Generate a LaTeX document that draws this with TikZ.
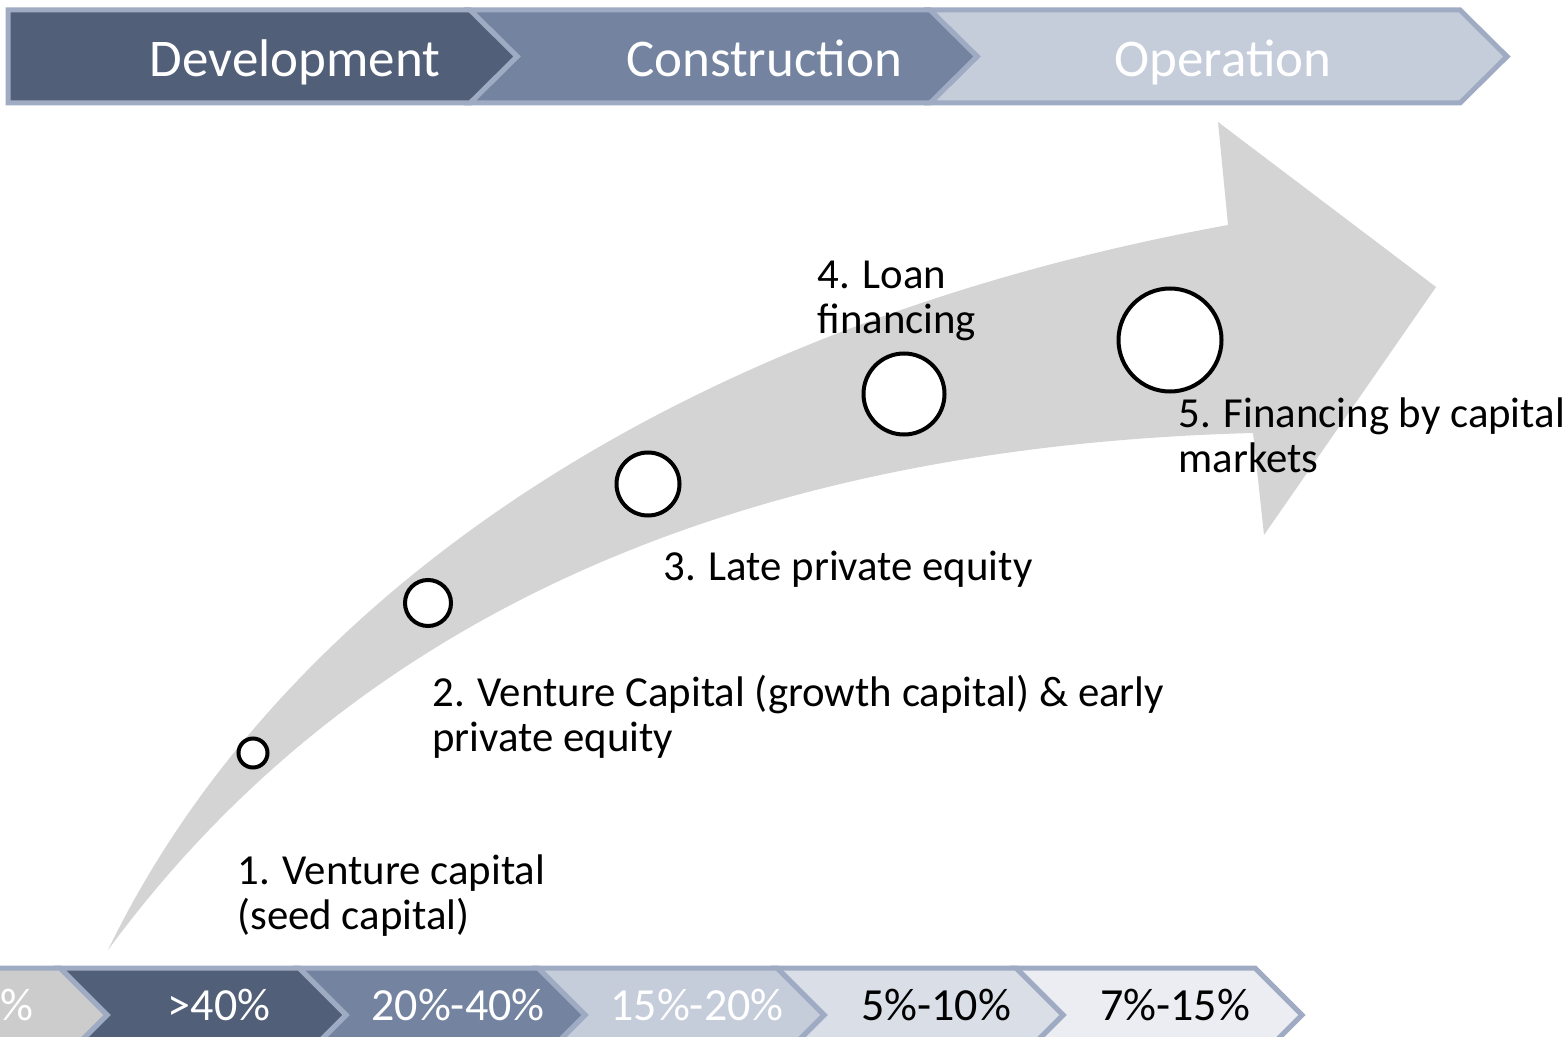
\documentclass[tikz,border=0pt]{standalone}
\usepackage{fontspec}
\setmainfont{Carlito}
\usepackage{tikz}
\definecolor{stageDark}{HTML}{525F78}
\definecolor{stageMid}{HTML}{7383A0}
\definecolor{stageLight}{HTML}{C5CCDA}
\definecolor{stagePale}{HTML}{D9DEE7}
\definecolor{stageWhite}{HTML}{EBEDF2}
\definecolor{stageGray}{HTML}{CCCCCC}
\definecolor{stageEdge}{HTML}{9EABC2}
\definecolor{arrowGray}{HTML}{D4D4D4}
\def\chevDepth{47}

\begin{document}
\begin{tikzpicture}[x=0.5pt, y=-0.5pt, line join=miter,
	stage/.style={draw=stageEdge, line width=2.5pt},
	stageText/.style={font=\fontsize{26.5}{32}\selectfont, text=white, anchor=base, inner sep=0pt},
	rateText/.style={font=\fontsize{23}{28}\selectfont, anchor=base, inner sep=0pt},
	dot/.style={circle, draw=black, line width=2pt, fill=white, inner sep=0pt},
	stepLabel/.style={font=\fontsize{21.4}{22.5}\selectfont, align=left, anchor=base west, inner sep=0pt}]
	\useasboundingbox (0,0) rectangle (1567,1037);

	% phases on top
	\foreach \xa/\xb/\fillCol in {930/1460/stageLight, 470/930/stageMid} {
		\filldraw[stage, fill=\fillCol] (\xa,10) -- (\xb,10) -- (\xb+\chevDepth,56.5) -- (\xb,103)
			-- (\xa,103) -- (\xa+\chevDepth,56.5) -- cycle;
	}
	\filldraw[stage, fill=stageDark] (8,10) -- (470,10) -- (470+\chevDepth,56.5) -- (470,103) -- (8,103) -- cycle;
	\node[stageText] (dev) at (295,77) {Development};
	\node[stageText] (cons) at (764,77) {Construction};
	\node[stageText] (oper) at (1223,77) {Operation};

	% growth arrow
	\fill[arrowGray] (108,950) .. controls (270,615) and (650,330) .. (1228,225) -- (1218,122) -- (1436,287)
		-- (1264,535) -- (1253,433) .. controls (800,445) and (380,580) .. (108,950) -- cycle;

	\node[dot, minimum size=14.5pt] (c1) at (253,753) {};
	\node[dot, minimum size=23pt] (c2) at (428,603) {};
	\node[dot, minimum size=31.5pt] (c3) at (648,484) {};
	\node[dot, minimum size=40.5pt] (c4) at (904,394) {};
	\node[dot, minimum size=51.5pt] (c5) at (1170,340) {};

	% base of a two-line label is its last line
	\node[stepLabel] (lblA) at (237,929) {1. Venture capital\\(seed capital)};
	\node[stepLabel] (lblB) at (432,751) {2. Venture Capital (growth capital) \& early\\private equity};
	\node[stepLabel] (lblC) at (663,580) {3. Late private equity};
	\node[stepLabel] (lblD) at (817,334) {4. Loan\\financing};
	\node[stepLabel] (lblE) at (1178,472) {5. Financing by capital\\markets};

	% rates at the bottom
	\foreach \xa/\xb/\fillCol/\txtCol/\nm/\lbl in {
		1016/1255/stageWhite/black/rateF/7\%-15\%,
		777/1016/stagePale/black/rateE/5\%-10\%,
		538/777/stageLight/white/rateD/15\%-20\%,
		299/538/stageMid/white/rateC/20\%-40\%,
		60/299/stageDark/white/rateB/>40\%} {
		\filldraw[stage, fill=\fillCol] (\xa,968) -- (\xb,968) -- (\xb+\chevDepth,1015) -- (\xb,1062)
			-- (\xa,1062) -- (\xa+\chevDepth,1015) -- cycle;
		\draw[white, line width=0.5pt] (\xa-3,968) -- (\xa+\chevDepth-3,1015) -- (\xa-3,1062);
		\node[rateText, text=\txtCol] (\nm) at ({(\xa+\xb)/2+\chevDepth/2+16},1020) {\lbl};
	}
	\filldraw[stage, fill=stageGray] (-150,968) -- (60,968) -- (60+\chevDepth,1015) -- (60,1062) -- (-150,1062) -- cycle;
	\node[rateText, text=white] (rateA) at (17,1020) {\%};
\end{tikzpicture}
\end{document}
